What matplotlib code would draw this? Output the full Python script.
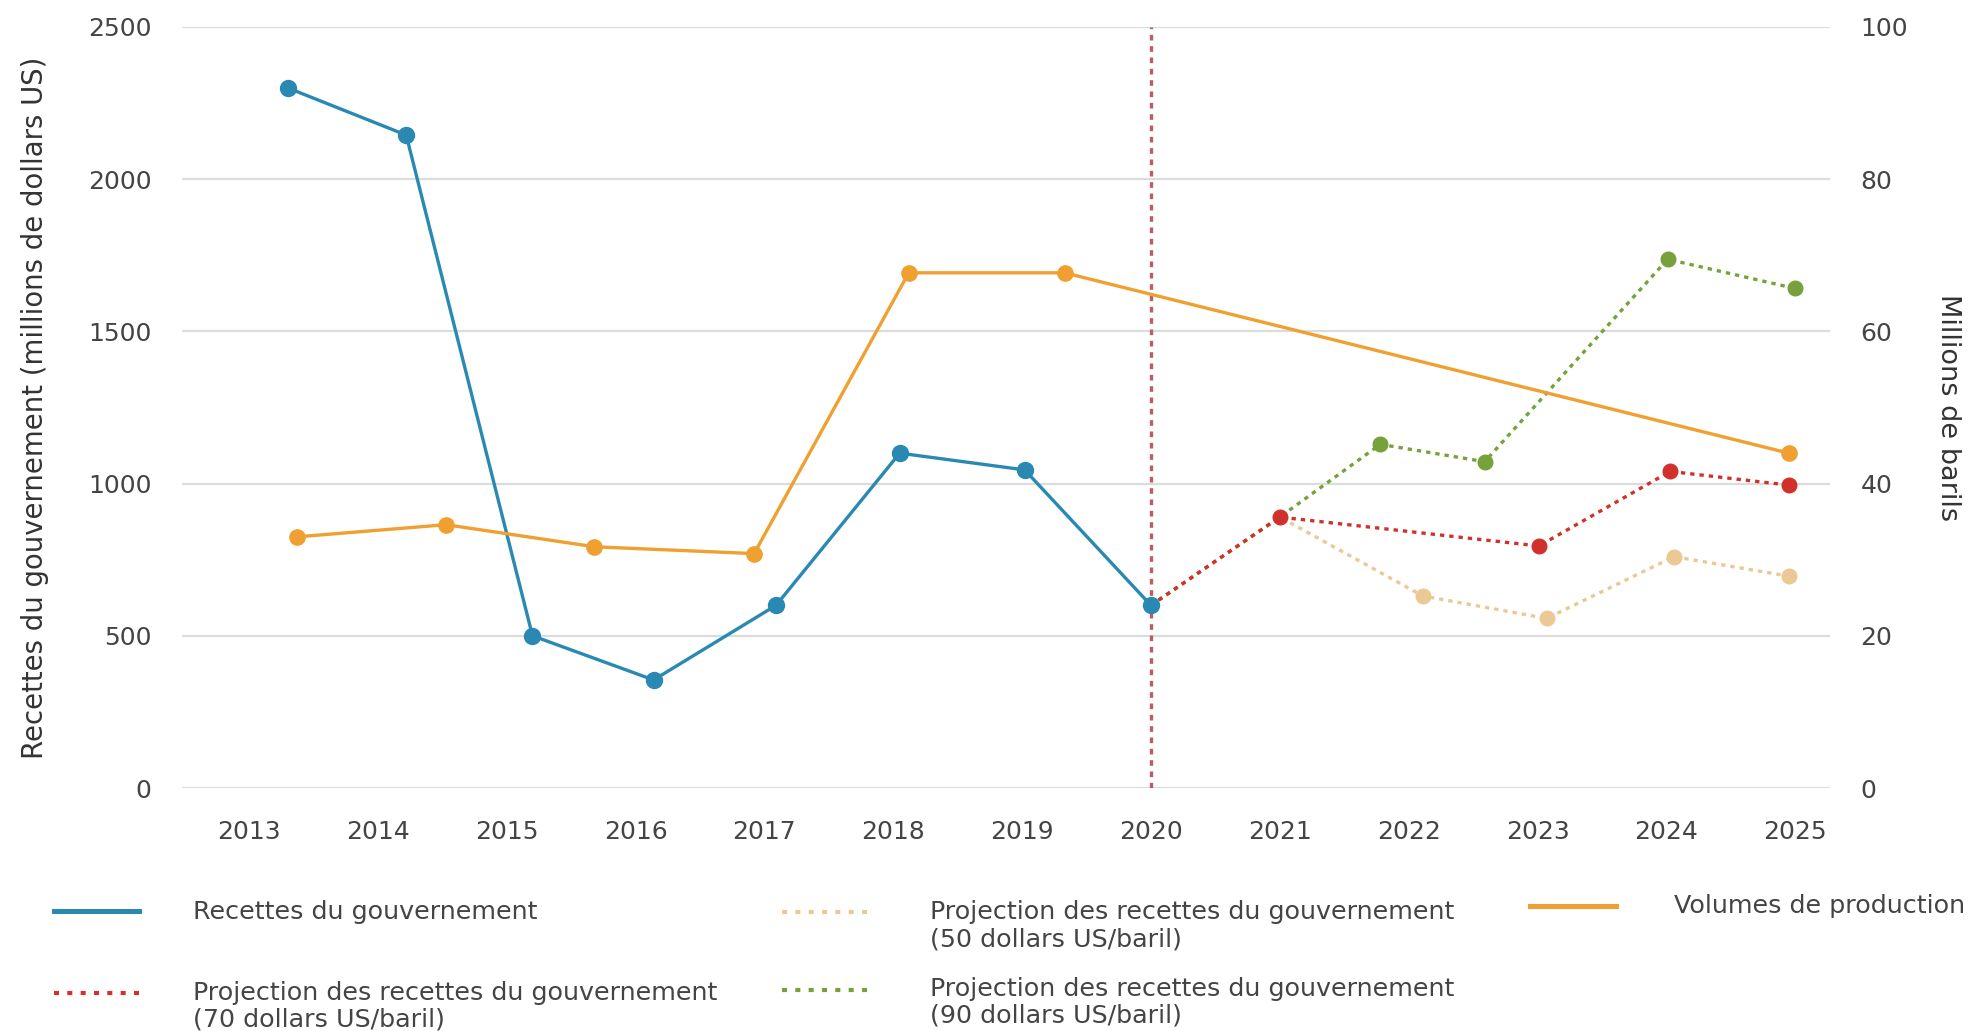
import matplotlib
matplotlib.use("Agg")
import matplotlib.pyplot as plt
from matplotlib.lines import Line2D

plt.rcParams['font.family'] = ['DejaVu Sans']

# ---------------- data ----------------
years_ticks = list(range(2013, 2026))

rev_x = [2013.30, 2014.22, 2015.20, 2016.14, 2017.09, 2018.05, 2019.02, 2020.0]
rev_y = [2300, 2145, 500, 355, 600, 1100, 1045, 600]

vol_x = [2013.37, 2014.53, 2015.68, 2016.92, 2018.12, 2019.33, 2024.95]
vol_y = [33.0, 34.6, 31.7, 30.8, 67.7, 67.7, 44.0]

p70_x = [2020.0, 2021.0, 2023.01, 2024.03, 2024.95]
p70_y = [600, 890, 795, 1040, 995]

p50_x = [2020.0, 2021.0, 2022.11, 2023.07, 2024.06, 2024.95]
p50_y = [600, 890, 631, 557, 760, 696]

p90_x = [2020.0, 2021.0, 2021.78, 2022.59, 2024.01, 2025.0]
p90_y = [600, 890, 1129, 1072, 1737, 1641]

left_ticks = [0, 500, 1000, 1500, 2000, 2500]
right_ticks = [0, 20, 40, 60, 80, 100]
cutoff_year = 2020.0

labels = {
    'rev': "Recettes du gouvernement",
    'p70': ("Projection des recettes du gouvernement", "(70 dollars US/baril)"),
    'p50': ("Projection des recettes du gouvernement", "(50 dollars US/baril)"),
    'p90': ("Projection des recettes du gouvernement", "(90 dollars US/baril)"),
    'vol': "Volumes de production",
}

# ---------------- style ----------------
C_BLUE = '#2a89b2'
C_ORANGE = '#f0a030'
C_RED = '#d0312b'
C_GREEN = '#76a13b'
C_BEIGE = '#ebc894'
C_VLINE = '#b85e64'
C_GRID = '#dcdcdc'
C_TXT = '#444444'

W, H = 1978, 1031
fig = plt.figure(figsize=(W / 100, H / 100), dpi=100)
L, R, T, B = 182, 1830, 27, 788
ax = fig.add_axes([L / W, 1 - B / H, (R - L) / W, (B - T) / H])
ax2 = ax.twinx()

ax.set_xlim(2012.48, 2025.27)
ax.set_ylim(0, 2500)
ax2.set_ylim(0, 100)

for a in (ax, ax2):
    for s in a.spines.values():
        s.set_visible(False)

ax.set_yticks(left_ticks)
ax2.set_yticks(right_ticks)
ax.set_xticks(years_ticks)
ax.grid(axis='y', color=C_GRID, lw=1.6)
ax.grid(axis='x', visible=False)
ax.set_axisbelow(True)
ax.tick_params(axis='both', length=0, labelsize=18, labelcolor=C_TXT)
ax.tick_params(axis='x', pad=23)
ax.tick_params(axis='y', pad=22)
ax2.tick_params(axis='y', length=0, labelsize=18, labelcolor=C_TXT, pad=22)

ax.set_ylabel("Recettes du gouvernement (millions de dollars US)", fontsize=19.8,
              color='#333333', labelpad=28)
ax2.set_ylabel("Millions de barils", fontsize=19.5, color='#333333', rotation=-90,
               labelpad=38, fontweight='medium')

# vertical cutoff line
ax.axvline(cutoff_year, ymin=0, ymax=1, color=C_VLINE, lw=2.4,
           linestyle=(0, (1.7, 1.7)), zorder=2)

dot = (0, (1.3, 1.5))
# projections
ax.plot(p50_x, p50_y, color=C_BEIGE, lw=2.4, linestyle=dot, zorder=3)
ax.plot(p50_x[2:], p50_y[2:], 'o', color=C_BEIGE, ms=10.5, zorder=3)
ax.plot(p90_x, p90_y, color=C_GREEN, lw=2.4, linestyle=dot, zorder=4)
ax.plot(p90_x[2:], p90_y[2:], 'o', color=C_GREEN, ms=10.5, zorder=4)
ax.plot(p70_x, p70_y, color=C_RED, lw=2.4, linestyle=dot, zorder=5)
ax.plot(p70_x[1:], p70_y[1:], 'o', color=C_RED, ms=10.5, zorder=5)

# revenue
ax.plot(rev_x, rev_y, '-o', color=C_BLUE, lw=2.4, ms=11.5, zorder=6)

# production volumes (right axis)
ax2.plot(vol_x, vol_y, '-o', color=C_ORANGE, lw=2.4, ms=11, zorder=6)

# ---------------- legend (manual) ----------------
def fx(px):
    return px / W

def fy(py):
    return 1 - py / H

def handle(x0, x1, y, color, ls, lw):
    fig.add_artist(Line2D([fx(x0), fx(x1)], [fy(y), fy(y)], transform=fig.transFigure,
                          color=color, linestyle=ls, lw=lw))

def ltext(x, y, s):
    fig.text(fx(x), fy(y), s, fontsize=18.3, color=C_TXT, ha='left', va='center')

legdot = (0, (1.2, 2.0))
handle(54, 139, 911, C_BLUE, '-', 3.6)
ltext(193, 912, labels['rev'])

handle(54, 139, 993, C_RED, legdot, 3.0)
ltext(193, 993, labels['p70'][0])
ltext(193, 1019, labels['p70'][1])

handle(782, 870, 912, C_BEIGE, legdot, 3.0)
ltext(930, 912, labels['p50'][0])
ltext(930, 939, labels['p50'][1])

handle(782, 870, 990, C_GREEN, legdot, 3.0)
ltext(930, 989, labels['p90'][0])
ltext(930, 1015, labels['p90'][1])

handle(1530, 1616, 906, C_ORANGE, '-', 3.6)
ltext(1674, 906, labels['vol'])

fig.savefig("out.png", dpi=100)
